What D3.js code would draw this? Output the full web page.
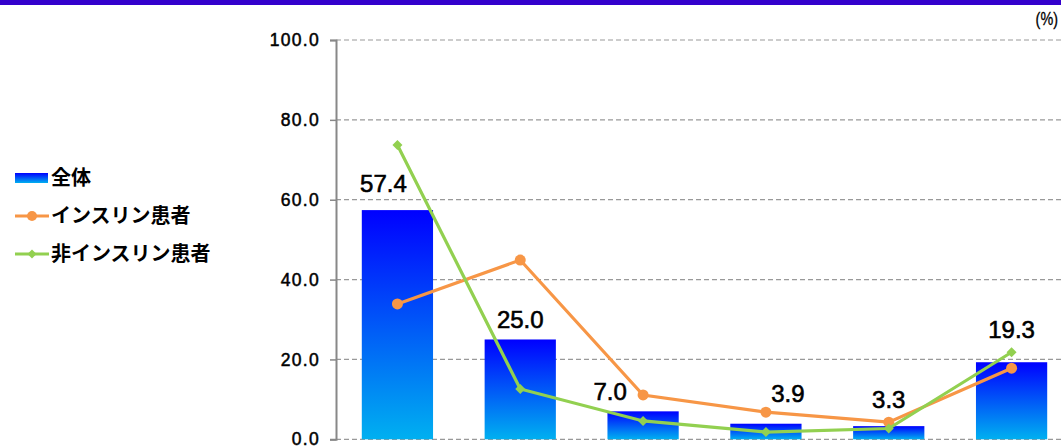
<!DOCTYPE html>
<html>
<head>
<meta charset="utf-8">
<script src="https://cdn.jsdelivr.net/npm/d3@7/dist/d3.min.js"></script>
<style>
  html, body { margin: 0; padding: 0; background: #fff; }
  svg { display: block; }
  text { font-family: "Liberation Sans", Arial, sans-serif; }
  .jp { font-family: "Noto Sans CJK JP", sans-serif; }
</style>
</head>
<body>
<svg id="chart" width="1061" height="448"></svg>
<script>
// Six response categories (labels sit below the visible area)
const categories = ["A", "B", "C", "D", "E", "F"];
const totalValues = [57.4, 25.0, 7.0, 3.9, 3.3, 19.3];       // 全体
const insulinValues = [33.9, 44.9, 11.1, 6.8, 4.3, 17.8];    // インスリン患者
const nonInsulinValues = [73.7, 12.6, 4.6, 1.8, 2.7, 21.8];  // 非インスリン患者
const yTicks = [0, 20, 40, 60, 80, 100];
const seriesNames = ["全体", "インスリン患者", "非インスリン患者"];
// value label placement relative to the bar top centre (px)
const labelLift = [18, 11.5, 11, 22, 18, 24];
const labelShift = [-14, 0, -33, 22, 0, 0];

const svg = d3.select("#chart");
const W = 1061, H = 448;

// header band
svg.append("rect").attr("x", 0).attr("y", 0).attr("width", W).attr("height", 5)
  .attr("fill", "#3300CC");

const defs = svg.append("defs");
const grad = defs.append("linearGradient").attr("id", "barGrad")
  .attr("x1", 0).attr("y1", 0).attr("x2", 0).attr("y2", 1);
grad.append("stop").attr("offset", "0%").attr("stop-color", "#0000FF");
grad.append("stop").attr("offset", "100%").attr("stop-color", "#00B0F0");

const x0 = 336, x1 = 1073, yTop = 40, yBottom = 439.3;
const x = d3.scaleBand().domain(categories).range([x0, x1]).paddingInner(0.42).paddingOuter(0.21);
const y = d3.scaleLinear().domain([0, 100]).range([yBottom, yTop]);

// dashed gridlines
svg.append("g").selectAll("line").data(yTicks).join("line")
  .attr("x1", x0).attr("x2", W)
  .attr("y1", d => y(d)).attr("y2", d => y(d))
  .attr("stroke", "#999").attr("stroke-width", 1.2)
  .attr("stroke-dasharray", "5,3");

// y axis
const yAxis = d3.axisLeft(y).tickValues(yTicks).tickFormat(d3.format(".1f")).tickSize(6).tickPadding(10);
const ga = svg.append("g").attr("transform", `translate(${x0},0)`).call(yAxis);
ga.select(".domain").attr("stroke", "#888").attr("stroke-width", 2);
ga.selectAll(".tick line").attr("stroke", "#888").attr("stroke-width", 1.5);
ga.selectAll(".tick text").attr("fill", "#000").attr("font-size", 17.5)
  .attr("stroke", "#000").attr("stroke-width", 0.5).attr("letter-spacing", 1.3)
  .attr("font-family", "'Liberation Sans', Arial, sans-serif");

// bars
svg.append("g").selectAll("rect").data(totalValues).join("rect")
  .attr("x", (d, i) => x(categories[i]))
  .attr("width", x.bandwidth())
  .attr("y", d => y(d))
  .attr("height", d => y(0) - y(d))
  .attr("fill", "url(#barGrad)");

const cx = i => x(categories[i]) + x.bandwidth() / 2;
const line = d3.line().x((d, i) => cx(i)).y(d => y(d));

// insulin series
svg.append("path").datum(insulinValues).attr("d", line)
  .attr("fill", "none").attr("stroke", "#F79646").attr("stroke-width", 3.2);
svg.append("g").selectAll("circle").data(insulinValues).join("circle")
  .attr("cx", (d, i) => cx(i)).attr("cy", d => y(d)).attr("r", 5.5)
  .attr("fill", "#F79646");

// non-insulin series
svg.append("path").datum(nonInsulinValues).attr("d", line)
  .attr("fill", "none").attr("stroke", "#92D050").attr("stroke-width", 3.2);
const diamond = d3.symbol().type(d3.symbolSquare).size(50);
svg.append("g").selectAll("path").data(nonInsulinValues).join("path")
  .attr("d", diamond)
  .attr("transform", (d, i) => `translate(${cx(i)},${y(d)}) rotate(45)`)
  .attr("fill", "#92D050");

// value labels
svg.append("g").selectAll("text").data(totalValues).join("text")
  .attr("x", (d, i) => cx(i) + labelShift[i])
  .attr("y", (d, i) => y(d) - labelLift[i])
  .attr("text-anchor", "middle")
  .attr("font-size", 24).attr("stroke", "#000").attr("stroke-width", 0.6)
  .text(d => d3.format(".1f")(d));

// unit
svg.append("text").attr("transform", "translate(1058,25) scale(0.8,1)").attr("text-anchor", "end")
  .attr("font-size", 18).attr("stroke", "#000").attr("stroke-width", 0.3).text("(%)");

// legend
const lg = svg.append("g");
lg.append("rect").attr("x", 15).attr("y", 173).attr("width", 33).attr("height", 10)
  .attr("fill", "url(#barGrad)");
lg.append("line").attr("x1", 15).attr("x2", 49).attr("y1", 216).attr("y2", 216)
  .attr("stroke", "#F79646").attr("stroke-width", 3);
lg.append("circle").attr("cx", 32).attr("cy", 216).attr("r", 5).attr("fill", "#F79646");
lg.append("line").attr("x1", 15).attr("x2", 49).attr("y1", 254).attr("y2", 254)
  .attr("stroke", "#92D050").attr("stroke-width", 3);
lg.append("path").attr("d", d3.symbol().type(d3.symbolSquare).size(40))
  .attr("transform", "translate(32,254) rotate(45)").attr("fill", "#92D050");
lg.selectAll("text.leg").data(seriesNames).join("text")
  .attr("class", "leg jp")
  .attr("x", 51).attr("y", (d, i) => [178, 216, 254][i])
  .attr("dy", "0.36em")
  .attr("font-size", 20).attr("font-weight", "bold")
  .text(d => d);
</script>
</body>
</html>
